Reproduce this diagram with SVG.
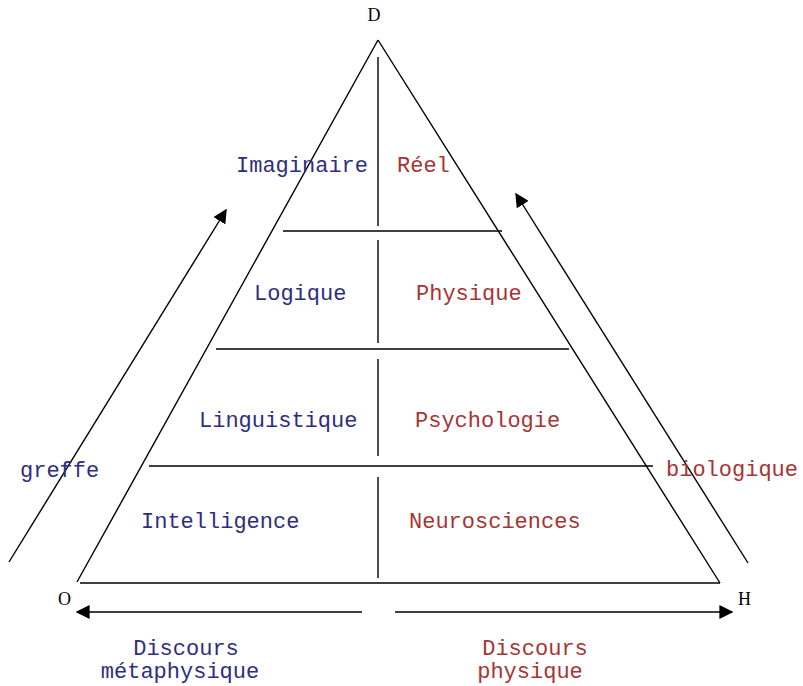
<svg xmlns="http://www.w3.org/2000/svg" width="803" height="686" viewBox="0 0 803 686">
  <style>
    .ln { stroke: #000; stroke-width: 1.4; fill: none; }
    .t { font-family: "Liberation Mono", "Courier New", monospace; font-size: 22px; }
    .b { fill: #2e2e80; }
    .r { fill: #a53535; }
    .k { font-family: "Liberation Serif", "Times New Roman", serif; fill: #000; font-size: 18px; text-anchor: middle; }
  </style>
  <defs>
    <marker id="ah" viewBox="0 0 10 10" refX="9" refY="5" markerWidth="14" markerHeight="14" markerUnits="userSpaceOnUse" orient="auto">
      <path d="M0,0 L10,5 L0,10 z" fill="#000"/>
    </marker>
  </defs>
  <rect width="803" height="686" fill="#fff"/>

  <!-- pyramid frame and levels -->
  <g id="pyramid">
    <path class="ln" d="M378,40 L77,582 M378,40 L720,583"/>
    <line class="ln" x1="80" y1="583" x2="720" y2="583"/>
    <line class="ln" x1="283" y1="231" x2="502" y2="231"/>
    <line class="ln" x1="216" y1="349" x2="569" y2="349"/>
    <line class="ln" x1="149" y1="466" x2="653" y2="466"/>
    <line class="ln" x1="378" y1="57" x2="378" y2="226"/>
    <line class="ln" x1="378" y1="240" x2="378" y2="343"/>
    <line class="ln" x1="378" y1="359" x2="378" y2="456"/>
    <line class="ln" x1="378" y1="477" x2="378" y2="578"/>
  </g>

  <!-- connectors -->
  <g id="connectors">
    <line class="ln" x1="9" y1="562" x2="226" y2="210" marker-end="url(#ah)"/>
    <line class="ln" x1="748" y1="563" x2="516" y2="194" marker-end="url(#ah)"/>
    <line class="ln" x1="362" y1="612" x2="77" y2="612" marker-end="url(#ah)"/>
    <line class="ln" x1="395" y1="612" x2="732" y2="612" marker-end="url(#ah)"/>
  </g>

  <g id="vertex-D"><text class="k" x="374" y="21">D</text></g>
  <g id="vertex-O"><text class="k" x="64.5" y="605">O</text></g>
  <g id="vertex-H"><text class="k" x="744.5" y="605">H</text></g>

  <g id="imaginaire"><text class="t b" x="236" y="172">Imaginaire</text></g>
  <g id="reel"><text class="t r" x="397" y="172">Réel</text></g>
  <g id="logique"><text class="t b" x="254" y="300">Logique</text></g>
  <g id="physique"><text class="t r" x="416" y="300">Physique</text></g>
  <g id="linguistique"><text class="t b" x="199" y="427">Linguistique</text></g>
  <g id="psychologie"><text class="t r" x="415" y="427">Psychologie</text></g>
  <g id="intelligence"><text class="t b" x="141" y="528">Intelligence</text></g>
  <g id="neurosciences"><text class="t r" x="409" y="528">Neurosciences</text></g>
  <g id="greffe"><text class="t b" x="20" y="477">greffe</text></g>
  <g id="biologique"><text class="t r" x="666" y="476">biologique</text></g>
  <g id="discours-metaphysique">
    <text class="t b" x="186" y="655" text-anchor="middle">Discours</text>
    <text class="t b" x="180" y="678" text-anchor="middle">métaphysique</text>
  </g>
  <g id="discours-physique">
    <text class="t r" x="535" y="655" text-anchor="middle">Discours</text>
    <text class="t r" x="530" y="678" text-anchor="middle">physique</text>
  </g>
</svg>
